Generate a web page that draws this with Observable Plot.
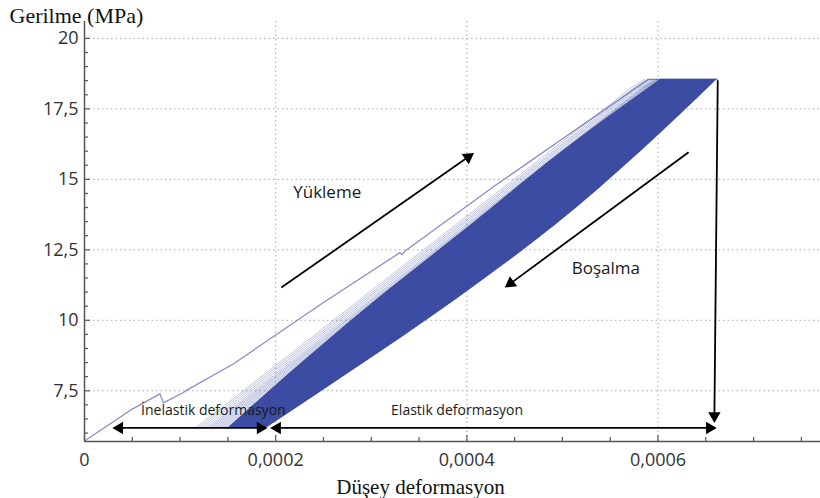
<!DOCTYPE html>
<html><head><meta charset="utf-8">
<script src="https://cdn.jsdelivr.net/npm/d3@7"></script>
<script src="https://cdn.jsdelivr.net/npm/@observablehq/plot@0.6"></script>
<style>body{margin:0;background:#fff}</style>
</head><body><div id="chart"></div>
<script>
// ---- axes ----
const xDomain = [0, 0.00077];
const yDomain = [5.7, 20.6];
const xTicks = [0, 0.0002, 0.0004, 0.0006];
const yTicks = [7.5, 10, 12.5, 15, 17.5, 20];
const xMinorTicks = [0.00005, 0.0001, 0.00015, 0.00025, 0.0003, 0.00035, 0.00045, 0.0005, 0.00055, 0.00065, 0.0007, 0.00075];
const yMinorTicks = [6, 6.5, 7, 8, 8.5, 9, 9.5, 10.5, 11, 11.5, 12, 13, 13.5, 14, 14.5, 15.5, 16, 16.5, 17, 18, 18.5, 19, 19.5];

// ---- first loading curve ----
const firstX = [0, 0.00005, 0.000079, 0.0000825, 0.000103, 0.000108, 0.000156, 0.00025, 0.00033, 0.000332, 0.000335, 0.00043, 0.00059, 0.000662];
const firstY = [5.72, 6.85, 7.39, 7.07, 7.43, 7.54, 8.46, 10.63, 12.4, 12.33, 12.45, 14.79, 18.55, 18.55];

// ---- later loading curves (start at band bottom, bend into the plateau) ----
const bandBottom = 6.2, kneeY = 18.25, bandTop = 18.55;
const loadStartX = [0.000117, 0.00012, 0.000123, 0.000126, 0.000129, 0.000131, 0.000133, 0.000135, 0.000137, 0.000139, 0.000141, 0.000143, 0.000145, 0.000147, 0.000149, 0.000151];
const loadKneeX  = [0.000572, 0.000575, 0.000577, 0.000579, 0.000581, 0.000583, 0.000584, 0.000585, 0.000586, 0.000587, 0.000588, 0.000589, 0.00059, 0.000591, 0.000592, 0.000593];
const loadEndX   = [0.000586, 0.000589, 0.000591, 0.000593, 0.000595, 0.000597, 0.000598, 0.000599, 0.0006, 0.000601, 0.000602, 0.000603, 0.000604, 0.000605, 0.000606, 0.000607];

// ---- dense cycle band (left: loading edge, right: unloading envelope) ----
const bandY      = [6.2, 8.04, 10.71, 13.37, 15.97, 18.55];
const bandLeftX  = [0.000151, 0.000212, 0.000305, 0.000404, 0.000499, 0.000603];
const bandRightX = [0.0001915, 0.0002731, 0.0003881, 0.0004928, 0.0005817, 0.0006622];

// ---- annotation arrows ----
const shaftX1 = [0.0002059, 0.000632, 0.0006625, 0.0000366, 0.0002017];
const shaftY1 = [11.16, 15.96, 18.52, 6.18, 6.18];
const shaftX2 = [0.0004014, 0.0004458, 0.000659, 0.000184, 0.000654];
const shaftY2 = [15.79, 11.31, 6.61, 6.18, 6.18];
const headX = [0.0004014, 0.0004458, 0.000659, 0.0000366, 0.000184, 0.0002017, 0.000654];
const headY = [15.79, 11.31, 6.61, 6.18, 6.18, 6.18, 6.18];
const headAngle = [55.3, 233.6, 180, 270, 90, 270, 90];

// ---- labels ----
const bigLabels = ["Yükleme", "Boşalma"];
const bigLabelX = [0.0002539, 0.0005455];
const bigLabelY = [14.52, 11.84];
const smallLabels = ["İnelastik deformasyon", "Elastik deformasyon"];
const smallLabelX = [0.0001348, 0.0003898];
const smallLabelY = [6.79, 6.79];
const xTitle = "Düşey deformasyon";
const yTitle = "Gerilme (MPa)";

// ---- build tables ----
const first = firstX.map((x, i) => ({x, y: firstY[i]}));
const loads = loadStartX.flatMap((x0, i) => [
  {id: i, x: x0, y: bandBottom},
  {id: i, x: loadKneeX[i], y: kneeY},
  {id: i, x: loadEndX[i], y: bandTop}
]);
const band = bandY.map((y, i) => ({y, x1: bandLeftX[i], x2: bandRightX[i]}));
const shafts = shaftX1.map((x1, i) => ({x1, y1: shaftY1[i], x2: shaftX2[i], y2: shaftY2[i]}));
const heads = headX.map((x, i) => ({x, y: headY[i], r: headAngle[i]}));
const big = bigLabels.map((t, i) => ({t, x: bigLabelX[i], y: bigLabelY[i]}));
const small = smallLabels.map((t, i) => ({t, x: smallLabelX[i], y: smallLabelY[i]}));

const fmt = d => d === 0 ? "0" : String(+d.toPrecision(6)).replace(".", ",");
const W = 820, H = 498, mL = 84, mR = 0, mT = 21, mB = 57;
const fw = W - mL - mR, fh = H - mT - mB;
const axisColor = "#555";
const bandColor = "#3b4ca2";

const chart = Plot.plot({
  width: W, height: H,
  marginLeft: mL, marginRight: mR, marginTop: mT, marginBottom: mB,
  style: {fontFamily: "'Open Sans', sans-serif", fontSize: "18px", color: "#333", background: "#fff"},
  x: {domain: xDomain, nice: false, label: null},
  y: {domain: yDomain, nice: false, label: null},
  marks: [
    Plot.gridX(xTicks.filter(d => d > 0), {stroke: "#aaa", strokeOpacity: 1, strokeDasharray: "1.5,3"}),
    Plot.gridY(yTicks, {stroke: "#aaa", strokeOpacity: 1, strokeDasharray: "1.5,3"}),
    Plot.line(first, {x: "x", y: "y", stroke: "#8a8dc8", strokeWidth: 1.3}),
    Plot.line(loads, {x: "x", y: "y", z: "id", stroke: bandColor, strokeOpacity: 0.38, strokeWidth: 0.9, curve: "linear"}),
    Plot.areaX(band, {y: "y", x1: "x1", x2: "x2", fill: bandColor, curve: "monotone-y"}),
    Plot.link(shafts, {x1: "x1", y1: "y1", x2: "x2", y2: "y2", stroke: "#000", strokeWidth: 1.8}),
    Plot.dot(heads, {x: "x", y: "y", rotate: "r", symbol: "triangle", r: 4.6, fill: "#000", stroke: null}),
    Plot.text(big, {x: "x", y: "y", text: "t", fontSize: 17, fill: "#1a1a1a", fontFamily: "'Open Sans', sans-serif"}),
    Plot.text(small, {x: "x", y: "y", text: "t", fontSize: 14, fill: "#1a1a1a", fontFamily: "'Open Sans', sans-serif"}),
    // axis lines
    Plot.ruleX([xDomain[0]], {stroke: axisColor, strokeWidth: 1.5}),
    Plot.ruleY([yDomain[0]], {stroke: axisColor, strokeWidth: 1.5}),
    // inward ticks
    Plot.ruleX(xTicks, {stroke: axisColor, strokeWidth: 1.2, insetTop: fh - 6}),
    Plot.ruleX(xMinorTicks, {stroke: axisColor, strokeWidth: 1.2, insetTop: fh - 4}),
    Plot.ruleY(yTicks, {stroke: axisColor, strokeWidth: 1.2, insetRight: fw - 6}),
    Plot.ruleY(yMinorTicks, {stroke: axisColor, strokeWidth: 1.2, insetRight: fw - 4}),
    // tick labels
    Plot.axisX(xTicks, {tickSize: 0, tickPadding: 12, tickFormat: fmt, label: null, fill: "#333"}),
    Plot.axisY(yTicks, {tickSize: 0, tickPadding: 6, tickFormat: fmt, label: null, fill: "#333"}),
    // titles
    Plot.text([yTitle], {frameAnchor: "top-left", textAnchor: "start", lineAnchor: "bottom", dx: -75, dy: 1,
      fontSize: 22, fontFamily: "'Liberation Serif', 'Times New Roman', serif", fill: "#111"}),
    Plot.text([xTitle], {frameAnchor: "bottom", textAnchor: "middle", lineAnchor: "bottom", dx: -32, dy: 52,
      fontSize: 21, fontFamily: "'Liberation Serif', 'Times New Roman', serif", fill: "#111"})
  ]
});
document.getElementById("chart").appendChild(chart);
</script>
</body></html>
